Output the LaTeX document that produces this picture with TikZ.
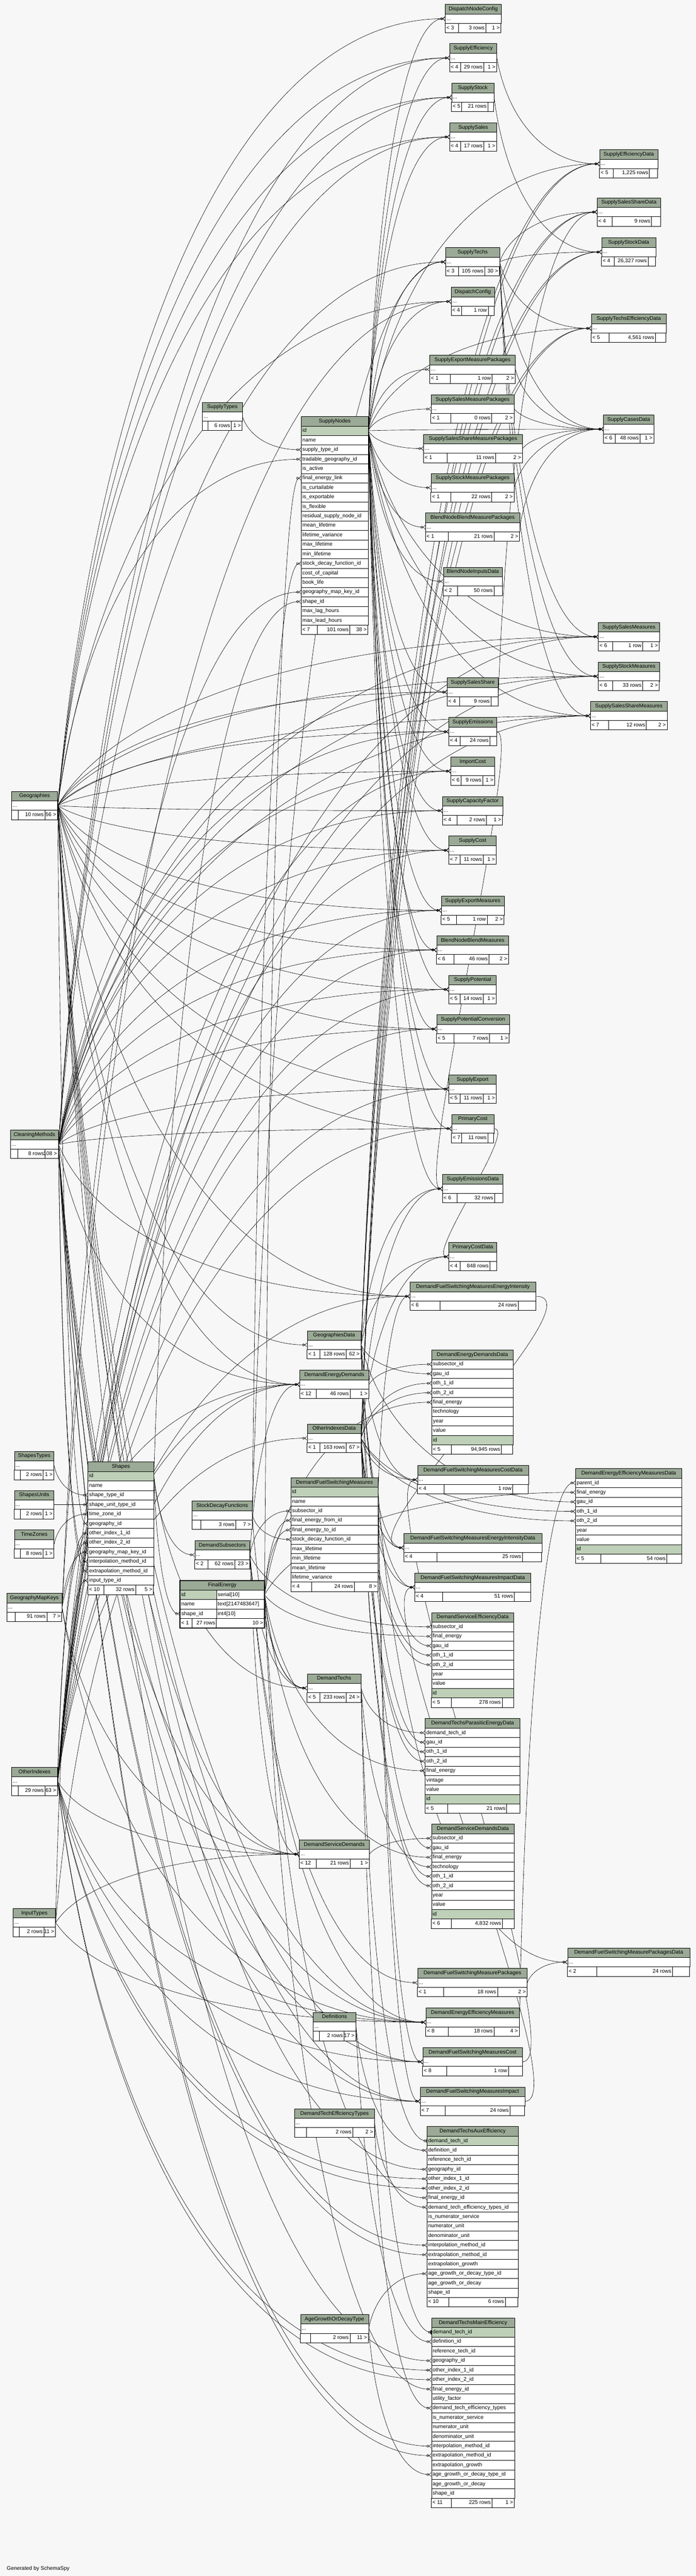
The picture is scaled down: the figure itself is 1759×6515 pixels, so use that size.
\documentclass[tikz,border=0pt]{standalone}
\usepackage{fontspec}
\setmainfont{Liberation Sans}
\usetikzlibrary{arrows.meta,calc}
\definecolor{bgc}{HTML}{F7F7F7}
\definecolor{hdrc}{HTML}{9BAA96}
\definecolor{pkc}{HTML}{BED0B8}
\newcommand\tabfont{\fontsize{13.5}{16}\selectfont}
\pgfdeclarelayer{wires}
\pgfsetlayers{wires,main}
\newcommand\mkfoot[7]{%
  \pgfmathsetmacro\fy{#3}%
  \def\tmpl{#5}\def\tmpr{#7}%
  \ifx\tmpl\empty\pgfmathsetmacro\fa{#2+0.15*#4}\else\pgfmathsetmacro\fa{#2+0.24*#4}\fi
  \ifx\tmpr\empty\pgfmathsetmacro\fb{#2+0.86*#4}\else\pgfmathsetmacro\fb{#2+0.73*#4}\fi
  \draw[fill=white,line width=0.8pt] (#2,\fy) rectangle (#2+#4,\fy+24);
  \draw[line width=0.8pt] (\fa,\fy) -- (\fa,\fy+24) (\fb,\fy) -- (\fb,\fy+24);
  \node[ftx,anchor=west] (#1-fl) at (#2,\fy+12) {#5};
  \node[ftx,anchor=east] (#1-fm) at (\fb,\fy+12) {#6};
  \node[ftx,anchor=east] (#1-fr) at (#2+#4,\fy+12) {#7};}
\newcommand\mktable[7]{%
  \pgfmathsetmacro\tw{#4-6}%
  \node[hdr,text width=\tw pt] (#1-h) at (#2,#3) {#1};
  \node[cell,text width=\tw pt] (#1) at (#2,#3+24) {...};
  \mkfoot{#1}{#2}{#3+48}{#4}{#5}{#6}{#7}}
\newcommand\mkxtable[9]{%
  \pgfmathsetmacro\tw{#4-6}%
  \node[hdr,text width=\tw pt] (#1-h) at (#2,#3) {#1};
  \def\pkname{#5}%
  \foreach \c [count=\k] in {#6} {%
    \edef\cname{\c}%
    \ifx\cname\pkname
      \node[pkcell,text width=\tw pt,alias=#1] (#1-\c) at (#2,#3+24*\k) {\c};
    \else
      \node[cell,text width=\tw pt] (#1-\c) at (#2,#3+24*\k) {\c};
    \fi
    \xdef\nrows{\k}}%
  \mkfoot{#1}{#2}{#3+24*\nrows+24}{#4}{#7}{#8}{#9}}
\newcommand\fkline[3][fk]{%
  \draw[#1] let \p1=(#2.east), \p2=(#3.west), \n1={\x2-\x1}, \n2={\y2-\y1},
    \n3={\n1>60 ? \x1+0.1*\n1 : \x1+max(40,0.5*abs(\n1))},
    \n4={\n1>60 ? \y1+0.55*\n2 : \y1},
    \n5={\n1>60 ? \x2-0.55*\n1 : \x2-max(40,0.5*abs(\n1))} in
    (\p1) .. controls (\n3,\n4) and (\n5,\y2) .. (\p2);}
\begin{document}
\catcode`\_=12
\begin{tikzpicture}[x=1pt,y=-1pt,
  hdr/.style={draw,line width=0.8pt,fill=hdrc,anchor=north west,minimum height=24pt,inner sep=3pt,align=center,font=\tabfont,text height=10pt,text depth=3pt},
  cell/.style={draw,line width=0.8pt,fill=white,anchor=north west,minimum height=24pt,inner sep=3pt,align=left,font=\tabfont,text height=10pt,text depth=3pt},
  pkcell/.style={cell,fill=pkc},
  ftx/.style={inner sep=3pt,font=\tabfont,text height=10pt,text depth=3pt},
  fk/.style={line width=0.8pt,-{Circle[open,length=6pt,width=6pt] Straight Barb[reversed,length=5pt,width=10pt]}},
  fkone/.style={line width=0.8pt,-{Circle[open,length=6pt,width=6pt] Bar[width=10pt,line width=2pt]}}]
\useasboundingbox (0,0) rectangle (1759,6515);

\mktable{SupplyEfficiencyData}{1515}{378}{147}{< 5}{1,225 rows}{}
\mktable{SupplySalesShareData}{1509}{500}{160}{< 4}{9 rows}{}
\mktable{SupplyStockData}{1520}{601}{137}{< 4}{26,327 rows}{}
\mktable{SupplyTechsEfficiencyData}{1494}{794}{189}{< 5}{4,561 rows}{}
\mktable{SupplyCasesData}{1525}{1049}{127}{< 6}{48 rows}{1 >}
\mktable{SupplySalesMeasures}{1512}{1574}{154}{< 6}{1 row}{1 >}
\mktable{SupplyStockMeasures}{1512}{1674}{154}{< 6}{33 rows}{2 >}
\mktable{SupplySalesShareMeasures}{1492}{1774}{194}{< 7}{12 rows}{2 >}
\mkxtable{DemandEnergyEfficiencyMeasuresData}{1454}{3714}{269}{id}{parent_id,final_energy,gau_id,oth_1_id,oth_2_id,year,value,id}{< 5}{54 rows}{}
\mktable{DemandFuelSwitchingMeasurePackagesData}{1434}{4926}{309}{< 2}{24 rows}{}

\mktable{DispatchNodeConfig}{1125}{11}{141}{< 3}{3 rows}{1 >}
\mktable{SupplyEfficiency}{1136}{110}{119}{< 4}{29 rows}{1 >}
\mktable{SupplyStock}{1141}{210}{107}{< 5}{21 rows}{}
\mktable{SupplySales}{1136}{310}{119}{< 4}{17 rows}{1 >}
\mktable{SupplyTechs}{1126}{626}{136}{< 3}{105 rows}{30 >}
\mktable{DispatchConfig}{1140}{726}{109}{< 4}{1 row}{}
\mktable{SupplyExportMeasurePackages}{1086}{898}{216}{< 1}{1 row}{2 >}
\mktable{SupplySalesMeasurePackages}{1089}{998}{210}{< 1}{0 rows}{2 >}
\mktable{SupplySalesShareMeasurePackages}{1070}{1098}{250}{< 1}{11 rows}{2 >}
\mktable{SupplyStockMeasurePackages}{1089}{1197}{210}{< 1}{22 rows}{2 >}
\mktable{BlendNodeBlendMeasurePackages}{1075}{1297}{238}{< 1}{21 rows}{2 >}
\mktable{BlendNodeInputsData}{1120}{1434}{149}{< 2}{50 rows}{}
\mktable{SupplySalesShare}{1130}{1714}{129}{< 4}{9 rows}{}
\mktable{SupplyEmissions}{1134}{1814}{121}{< 4}{24 rows}{}
\mktable{ImportCost}{1139}{1914}{111}{< 6}{9 rows}{1 >}
\mktable{SupplyCapacityFactor}{1118}{2014}{152}{< 4}{2 rows}{1 >}
\mktable{SupplyCost}{1134}{2114}{120}{< 7}{11 rows}{1 >}
\mktable{SupplyExportMeasures}{1115}{2266}{159}{< 5}{1 row}{2 >}
\mktable{BlendNodeBlendMeasures}{1103}{2366}{182}{< 6}{46 rows}{2 >}
\mktable{SupplyPotential}{1134}{2466}{120}{< 5}{14 rows}{1 >}
\mktable{SupplyPotentialConversion}{1103}{2566}{184}{< 5}{7 rows}{1 >}
\mktable{SupplyExport}{1134}{2718}{120}{< 5}{11 rows}{1 >}
\mktable{PrimaryCost}{1141}{2818}{107}{< 7}{11 rows}{}
\mktable{SupplyEmissionsData}{1118}{2970}{153}{< 6}{32 rows}{}
\mktable{PrimaryCostData}{1134}{3142}{121}{< 4}{848 rows}{}
\mktable{DemandFuelSwitchingMeasuresEnergyIntensity}{1036}{3242}{318}{< 6}{24 rows}{}
\mkxtable{DemandEnergyDemandsData}{1091}{3414}{205}{id}{subsector_id,gau_id,oth_1_id,oth_2_id,final_energy,technology,year,value,id}{< 5}{94,945 rows}{}
\mktable{DemandFuelSwitchingMeasuresCostData}{1055}{3706}{280}{< 4}{1 row}{}
\mktable{DemandFuelSwitchingMeasuresEnergyIntensityData}{1020}{3878}{349}{< 4}{25 rows}{}
\mktable{DemandFuelSwitchingMeasuresImpactData}{1048}{3978}{293}{< 4}{51 rows}{}
\mkxtable{DemandServiceEfficiencyData}{1090}{4078}{208}{id}{subsector_id,final_energy,gau_id,oth_1_id,oth_2_id,year,value,id}{< 5}{278 rows}{}
\mkxtable{DemandTechsParasiticEnergyData}{1074}{4346}{240}{id}{demand_tech_id,gau_id,oth_1_id,oth_2_id,final_energy,vintage,value,id}{< 5}{21 rows}{}
\mkxtable{DemandServiceDemandsData}{1090}{4613}{209}{id}{subsector_id,gau_id,final_energy,technology,oth_1_id,oth_2_id,year,value,id}{< 6}{4,832 rows}{}
\mktable{DemandFuelSwitchingMeasurePackages}{1055}{4978}{277}{< 1}{18 rows}{2 >}
\mktable{DemandEnergyEfficiencyMeasures}{1076}{5078}{236}{< 8}{18 rows}{4 >}
\mktable{DemandFuelSwitchingMeasuresCost}{1068}{5178}{252}{< 8}{1 row}{}
\mktable{DemandFuelSwitchingMeasuresImpact}{1062}{5278}{264}{< 7}{24 rows}{}
\mkxtable{DemandTechsAuxEfficiency}{1079}{5378}{230}{demand_tech_id}{demand_tech_id,definition_id,reference_tech_id,geography_id,other_index_1_id,other_index_2_id,final_energy_id,demand_tech_efficiency_types_id,is_numerator_service,numerator_unit,denominator_unit,interpolation_method_id,extrapolation_method_id,extrapolation_growth,age_growth_or_decay_type_id,age_growth_or_decay,shape_id}{< 10}{6 rows}{}
\mkxtable{DemandTechsMainEfficiency}{1090}{5862}{210}{demand_tech_id}{demand_tech_id,definition_id,reference_tech_id,geography_id,other_index_1_id,other_index_2_id,final_energy_id,utility_factor,demand_tech_efficiency_types,is_numerator_service,numerator_unit,denominator_unit,interpolation_method_id,extrapolation_method_id,extrapolation_growth,age_growth_or_decay_type_id,age_growth_or_decay,shape_id}{< 11}{225 rows}{1 >}

\mktable{SupplyTypes}{511}{1017}{101}{}{6 rows}{1 >}
\mkxtable{SupplyNodes}{761}{1053}{169}{id}{id,name,supply_type_id,tradable_geography_id,is_active,final_energy_link,is_curtailable,is_exportable,is_flexible,residual_supply_node_id,mean_lifetime,lifetime_variance,max_lifetime,min_lifetime,stock_decay_function_id,cost_of_capital,book_life,geography_map_key_id,shape_id,max_lag_hours,max_lead_hours}{< 7}{101 rows}{38 >}
\mktable{GeographiesData}{776}{3365}{136}{< 1}{128 rows}{62 >}
\mktable{DemandEnergyDemands}{757}{3465}{175}{< 12}{46 rows}{1 >}
\mktable{OtherIndexesData}{776}{3601}{136}{< 1}{163 rows}{67 >}
\mkxtable{DemandFuelSwitchingMeasures}{735}{3737}{220}{id}{id,name,subsector_id,final_energy_from_id,final_energy_to_id,stock_decay_function_id,max_lifetime,min_lifetime,mean_lifetime,lifetime_variance}{< 4}{24 rows}{8 >}
\mktable{DemandTechs}{776}{4233}{136}{< 5}{233 rows}{24 >}
\mktable{DemandServiceDemands}{756}{4653}{177}{< 12}{21 rows}{1 >}
\mktable{Definitions}{791}{5089}{108}{}{2 rows}{17 >}
\mktable{DemandTechEfficiencyTypes}{744}{5333}{202}{}{2 rows}{2 >}
\mktable{AgeGrowthOrDecayType}{759}{5853}{172}{}{2 rows}{11 >}

\mkxtable{Shapes}{222}{3697}{166}{id}{id,name,shape_type_id,shape_unit_type_id,time_zone_id,geography_id,other_index_1_id,other_index_2_id,geography_map_key_id,interpolation_method_id,extrapolation_method_id,input_type_id}{< 10}{32 rows}{5 >}
\mktable{StockDecayFunctions}{485}{3796}{152}{}{3 rows}{7 >}
\mktable{DemandSubsectors}{492}{3896}{139}{< 2}{62 rows}{23 >}
\node[hdr,text width=207pt] (FinalEnergy-h) at (455,3997) {FinalEnergy};
\node[pkcell,text width=86pt] (FinalEnergy-id) at (455,4021) {id};
\node[cell,text width=115pt,alias=FinalEnergy] (FinalEnergy-t1) at (547,4021) {serial[10]};
\node[cell,text width=86pt] (FinalEnergy-name) at (455,4045) {name};
\node[cell,text width=115pt] (FinalEnergy-t2) at (547,4045) {text[2147483647]};
\node[cell,text width=86pt] (FinalEnergy-shape_id) at (455,4069) {shape_id};
\node[cell,text width=115pt] (FinalEnergy-t3) at (547,4069) {int4[10]};
\draw[fill=white,line width=0.8pt] (455,4093) rectangle (668,4117);
\draw[line width=0.8pt] (485,4093) -- (485,4117) (547,4093) -- (547,4117);
\node[ftx,anchor=west] (FinalEnergy-fl) at (455,4105) {< 1};
\node[ftx,anchor=east] (FinalEnergy-fm) at (547,4105) {27 rows};
\node[ftx,anchor=east] (FinalEnergy-fr) at (668,4105) {10 >};
\draw[line width=2.5pt] (455,3997) rectangle (668,4117);

\mktable{Geographies}{29}{2001}{116}{}{10 rows}{56 >}
\mktable{CleaningMethods}{26}{2858}{121}{}{8 rows}{108 >}
\mktable{ShapesTypes}{36}{3670}{100}{}{2 rows}{1 >}
\mktable{ShapesUnits}{36}{3769}{100}{}{2 rows}{1 >}
\mktable{TimeZones}{36}{3869}{100}{}{8 rows}{1 >}
\mktable{GeographyMapKeys}{17}{4029}{139}{}{91 rows}{7 >}
\mktable{OtherIndexes}{29}{4469}{116}{}{29 rows}{63 >}
\mktable{InputTypes}{33}{4826}{107}{}{2 rows}{11 >}

\node[ftx,anchor=south west] (gen) at (14,6506) {Generated by SchemaSpy};

\begin{pgfonlayer}{wires}
\fill[bgc] (0,0) rectangle (1759,6515);
\foreach \ch in {SupplyEfficiency,SupplyStock,SupplySales,SupplySalesShare,SupplyEmissions,ImportCost,SupplyCapacityFactor,SupplyCost,SupplyExportMeasures,BlendNodeBlendMeasures,SupplyPotential,SupplyPotentialConversion,SupplyExport,PrimaryCost,SupplySalesMeasures,SupplyStockMeasures,SupplySalesShareMeasures}
  \foreach \pa in {SupplyNodes,Geographies,CleaningMethods}
    \fkline{\pa}{\ch};
\foreach \ch in {ImportCost,SupplyCost,SupplyExportMeasures,BlendNodeBlendMeasures,SupplyPotential,SupplyPotentialConversion,SupplyExport,PrimaryCost,SupplySalesMeasures,SupplyStockMeasures,SupplySalesShareMeasures}
  \fkline{OtherIndexes}{\ch};
\foreach \ch in {SupplySalesMeasures,SupplyStockMeasures,SupplySalesShareMeasures,SupplySalesShareData,SupplyStockData,SupplyTechsEfficiencyData,SupplyCasesData}
  \fkline{SupplyTechs}{\ch};
\foreach \ch in {DispatchNodeConfig,SupplyTechs,DispatchConfig,SupplyExportMeasurePackages,SupplySalesMeasurePackages,SupplySalesShareMeasurePackages,SupplyStockMeasurePackages,BlendNodeBlendMeasurePackages,BlendNodeInputsData,SupplyEfficiencyData,SupplyTechsEfficiencyData,SupplyEmissionsData,SupplyCasesData}
  \fkline{SupplyNodes}{\ch};
\foreach \ch in {SupplyEfficiencyData,SupplySalesShareData,SupplyStockData,SupplyTechsEfficiencyData,SupplyEmissionsData,PrimaryCostData,DemandFuelSwitchingMeasuresCostData,DemandFuelSwitchingMeasuresEnergyIntensityData,DemandFuelSwitchingMeasuresImpactData}
  \foreach \pa in {GeographiesData,OtherIndexesData}
    \fkline{\pa}{\ch};
\foreach \ch in {DemandFuelSwitchingMeasuresEnergyIntensity,DemandFuelSwitchingMeasuresCost,DemandFuelSwitchingMeasuresImpact}
  \foreach \pa in {DemandFuelSwitchingMeasures,Geographies,OtherIndexes,CleaningMethods}
    \fkline{\pa}{\ch};
\foreach \ch in {DemandEnergyDemands,DemandServiceDemands,DemandEnergyEfficiencyMeasures}
  \foreach \pa in {DemandSubsectors,Geographies,OtherIndexes,CleaningMethods,GeographyMapKeys,InputTypes}
    \fkline{\pa}{\ch};
\foreach \pa/\ch in {Geographies/DispatchNodeConfig,Geographies/DispatchConfig,GeographyMapKeys/DispatchConfig,Geographies/GeographiesData,OtherIndexes/OtherIndexesData,
    SupplyEfficiency/SupplyEfficiencyData,SupplySalesShare/SupplySalesShareData,SupplyStock/SupplyStockData,
    SupplyExportMeasurePackages/SupplyCasesData,SupplySalesMeasurePackages/SupplyCasesData,SupplySalesShareMeasurePackages/SupplyCasesData,SupplyStockMeasurePackages/SupplyCasesData,BlendNodeBlendMeasurePackages/SupplyCasesData,
    CleaningMethods/SupplyTechs,StockDecayFunctions/SupplyTechs,
    DemandFuelSwitchingMeasurePackages/DemandFuelSwitchingMeasurePackagesData,DemandFuelSwitchingMeasures/DemandFuelSwitchingMeasurePackagesData,
    DemandSubsectors/DemandFuelSwitchingMeasurePackages,DemandSubsectors/DemandTechs,StockDecayFunctions/DemandTechs,Shapes/DemandTechs,FinalEnergy/DemandTechs,Shapes/DemandSubsectors,Shapes/FinalEnergy-shape_id,
    SupplyTypes/SupplyNodes-supply_type_id,Geographies/SupplyNodes-tradable_geography_id,FinalEnergy/SupplyNodes-final_energy_link,StockDecayFunctions/SupplyNodes-stock_decay_function_id,GeographyMapKeys/SupplyNodes-geography_map_key_id,Shapes/SupplyNodes-shape_id,
    ShapesTypes/Shapes-shape_type_id,ShapesUnits/Shapes-shape_unit_type_id,TimeZones/Shapes-time_zone_id,Geographies/Shapes-geography_id,OtherIndexes/Shapes-other_index_1_id,OtherIndexes/Shapes-other_index_2_id,GeographyMapKeys/Shapes-geography_map_key_id,CleaningMethods/Shapes-interpolation_method_id,CleaningMethods/Shapes-extrapolation_method_id,InputTypes/Shapes-input_type_id,
    DemandSubsectors/DemandFuelSwitchingMeasures-subsector_id,FinalEnergy/DemandFuelSwitchingMeasures-final_energy_from_id,FinalEnergy/DemandFuelSwitchingMeasures-final_energy_to_id,StockDecayFunctions/DemandFuelSwitchingMeasures-stock_decay_function_id,
    DemandEnergyDemands/DemandEnergyDemandsData-subsector_id,GeographiesData/DemandEnergyDemandsData-gau_id,OtherIndexesData/DemandEnergyDemandsData-oth_1_id,OtherIndexesData/DemandEnergyDemandsData-oth_2_id,FinalEnergy/DemandEnergyDemandsData-final_energy,
    DemandEnergyEfficiencyMeasures/DemandEnergyEfficiencyMeasuresData-parent_id,FinalEnergy/DemandEnergyEfficiencyMeasuresData-final_energy,GeographiesData/DemandEnergyEfficiencyMeasuresData-gau_id,OtherIndexesData/DemandEnergyEfficiencyMeasuresData-oth_1_id,OtherIndexesData/DemandEnergyEfficiencyMeasuresData-oth_2_id,
    DemandSubsectors/DemandServiceEfficiencyData-subsector_id,FinalEnergy/DemandServiceEfficiencyData-final_energy,GeographiesData/DemandServiceEfficiencyData-gau_id,OtherIndexesData/DemandServiceEfficiencyData-oth_1_id,OtherIndexesData/DemandServiceEfficiencyData-oth_2_id,
    DemandTechs/DemandTechsParasiticEnergyData-demand_tech_id,GeographiesData/DemandTechsParasiticEnergyData-gau_id,OtherIndexesData/DemandTechsParasiticEnergyData-oth_1_id,OtherIndexesData/DemandTechsParasiticEnergyData-oth_2_id,FinalEnergy/DemandTechsParasiticEnergyData-final_energy,
    DemandServiceDemands/DemandServiceDemandsData-subsector_id,GeographiesData/DemandServiceDemandsData-gau_id,FinalEnergy/DemandServiceDemandsData-final_energy,DemandTechs/DemandServiceDemandsData-technology,OtherIndexesData/DemandServiceDemandsData-oth_1_id,OtherIndexesData/DemandServiceDemandsData-oth_2_id,
    DemandTechEfficiencyTypes/DemandTechsAuxEfficiency-demand_tech_efficiency_types_id,DemandTechEfficiencyTypes/DemandTechsMainEfficiency-demand_tech_efficiency_types,
    SupplyEmissions/SupplyEmissionsData,PrimaryCost/PrimaryCostData,DemandFuelSwitchingMeasuresEnergyIntensity/DemandFuelSwitchingMeasuresEnergyIntensityData,DemandFuelSwitchingMeasuresCost/DemandFuelSwitchingMeasuresCostData,DemandFuelSwitchingMeasuresImpact/DemandFuelSwitchingMeasuresImpactData}
  \fkline{\pa}{\ch};
\foreach \tb in {DemandTechsAuxEfficiency,DemandTechsMainEfficiency}
  \foreach \pa/\rw in {Definitions/definition_id,Geographies/geography_id,OtherIndexes/other_index_1_id,OtherIndexes/other_index_2_id,FinalEnergy/final_energy_id,CleaningMethods/interpolation_method_id,CleaningMethods/extrapolation_method_id,AgeGrowthOrDecayType/age_growth_or_decay_type_id}
    \fkline{\pa}{\tb-\rw};
\fkline[fkone]{DemandTechs}{DemandTechsAuxEfficiency-demand_tech_id}
\fkline[fkone]{DemandTechs}{DemandTechsMainEfficiency-demand_tech_id}
\end{pgfonlayer}
\end{tikzpicture}
\end{document}
